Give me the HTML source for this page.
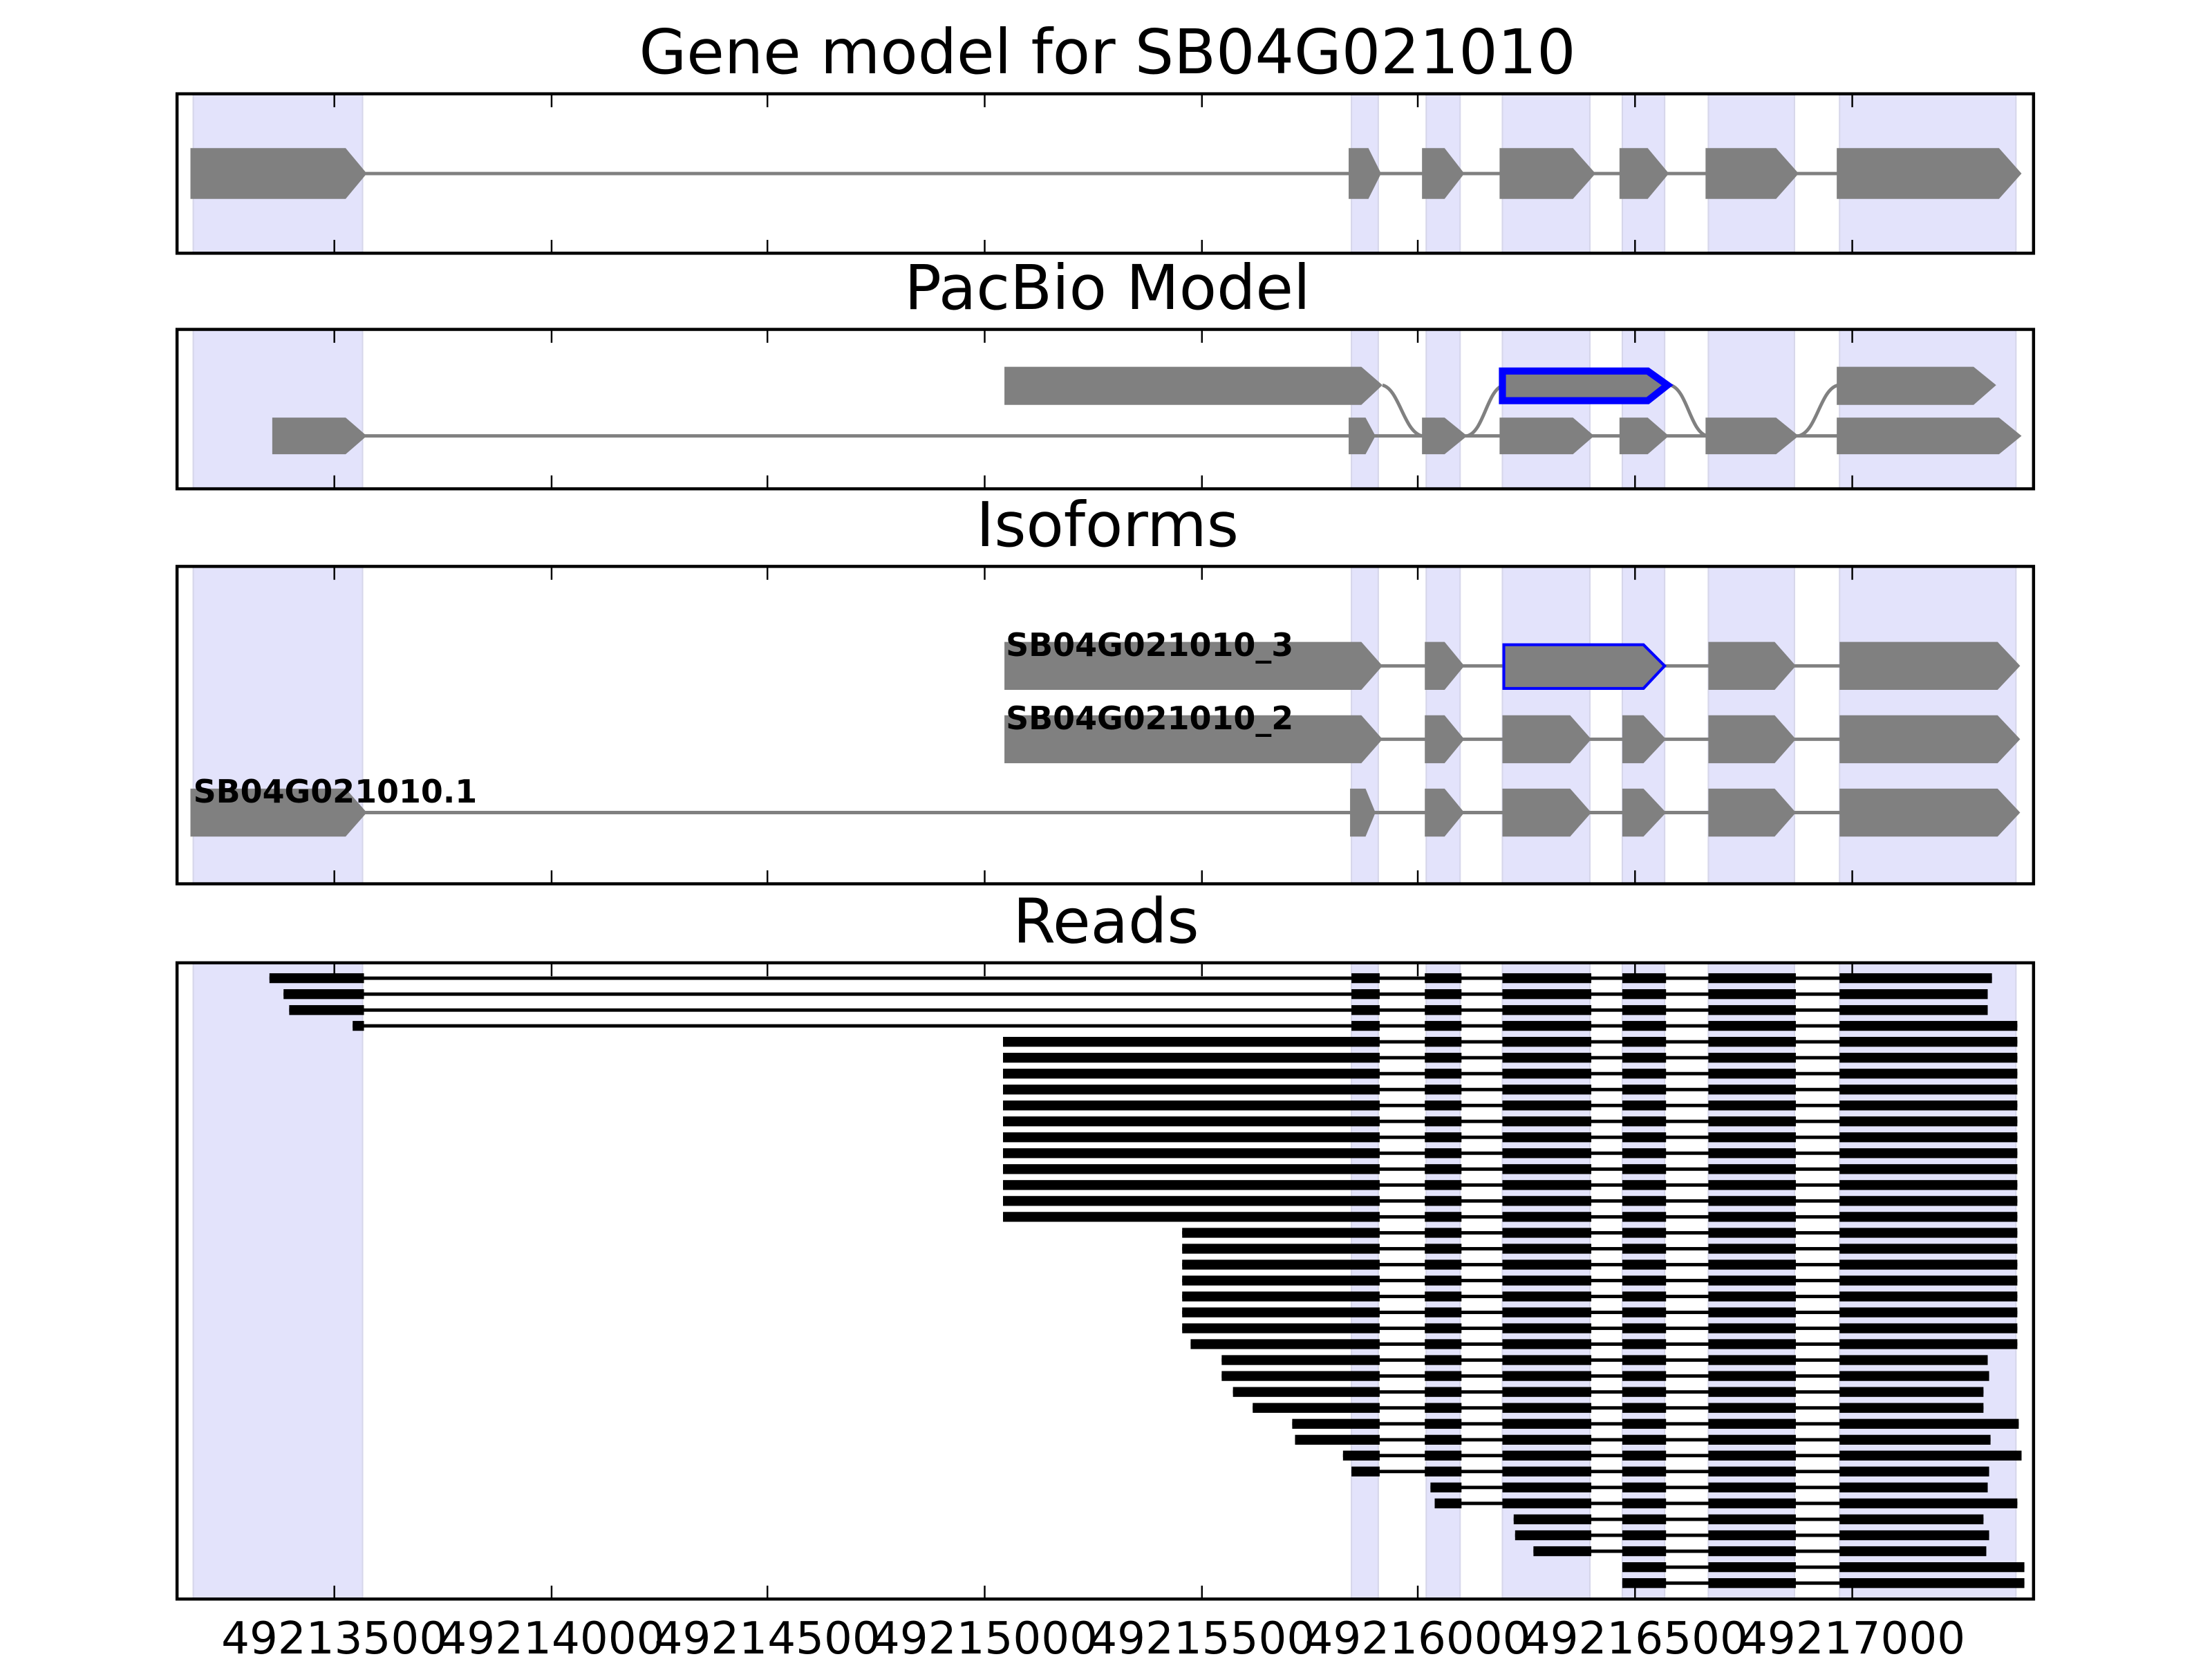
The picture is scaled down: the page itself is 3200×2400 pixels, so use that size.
<!DOCTYPE html>
<html><head><meta charset="utf-8"><style>
html,body{margin:0;padding:0;background:#fff;}
svg{display:block;}
text{font-family:"DejaVu Sans","Liberation Sans",sans-serif;}
</style></head><body>
<svg width="3200" height="2400" viewBox="0 0 1568 1176" preserveAspectRatio="none" xmlns="http://www.w3.org/2000/svg">
<defs>
<g id="ticks">
<path d="M237 0v9M391 0v9M544 0v9M698 0v9M852 0v9M1005 0v9M1159 0v9M1313 0v9" stroke="#000" stroke-width="1.2"/>
</g>
<g id="b2"><rect x="1010" y="-3.5" width="26" height="7"/></g>
<g id="b3"><rect x="1065" y="-3.5" width="63" height="7"/></g>
<g id="tail"><rect x="1150" y="-3.5" width="31" height="7"/><rect x="1211" y="-3.5" width="62" height="7"/></g>
</defs>
<rect width="1568" height="1176" fill="#fff"/>

<!-- titles -->
<text x="785" y="52" font-size="43.5" text-anchor="middle">Gene model for SB04G021010</text>
<text x="785" y="219" font-size="43.5" text-anchor="middle">PacBio Model</text>
<text x="785" y="387" font-size="43.5" text-anchor="middle">Isoforms</text>
<text x="784" y="668" font-size="43.5" text-anchor="middle">Reads</text>

<!-- shaded bands for each panel -->
<g fill="#e3e3fb" stroke="#d6d6ea" stroke-width="1">
<rect x="137" y="67" width="120" height="112"/>
<rect x="958" y="67" width="19" height="112"/>
<rect x="1011" y="67" width="24" height="112"/>
<rect x="1065" y="67" width="62" height="112"/>
<rect x="1150" y="67" width="30" height="112"/>
<rect x="1211" y="67" width="61" height="112"/>
<rect x="1304" y="67" width="125" height="112"/>

<rect x="137" y="234" width="120" height="112"/>
<rect x="958" y="234" width="19" height="112"/>
<rect x="1011" y="234" width="24" height="112"/>
<rect x="1065" y="234" width="62" height="112"/>
<rect x="1150" y="234" width="30" height="112"/>
<rect x="1211" y="234" width="61" height="112"/>
<rect x="1304" y="234" width="125" height="112"/>

<rect x="137" y="402" width="120" height="224"/>
<rect x="958" y="402" width="19" height="224"/>
<rect x="1011" y="402" width="24" height="224"/>
<rect x="1065" y="402" width="62" height="224"/>
<rect x="1150" y="402" width="30" height="224"/>
<rect x="1211" y="402" width="61" height="224"/>
<rect x="1304" y="402" width="125" height="224"/>

<rect x="137" y="683" width="120" height="450"/>
<rect x="958" y="683" width="19" height="450"/>
<rect x="1011" y="683" width="24" height="450"/>
<rect x="1065" y="683" width="62" height="450"/>
<rect x="1150" y="683" width="30" height="450"/>
<rect x="1211" y="683" width="61" height="450"/>
<rect x="1304" y="683" width="125" height="450"/>
</g>

<!-- Panel 1 gene model -->
<g fill="#808080">
<line x1="258" y1="123" x2="1430" y2="123" stroke="#808080" stroke-width="2.4"/>
<polygon points="135,105 245,105 260,123 245,141 135,141"/>
<polygon points="956,105 970,105 979,123 970,141 956,141"/>
<polygon points="1008,105 1024,105 1038,123 1024,141 1008,141"/>
<polygon points="1063,105 1115,105 1131,123 1115,141 1063,141"/>
<polygon points="1148,105 1168,105 1183,123 1168,141 1148,141"/>
<polygon points="1209,105 1259,105 1275,123 1259,141 1209,141"/>
<polygon points="1302,105 1417,105 1433,123 1417,141 1302,141"/>
</g>

<!-- Panel 2 PacBio -->
<g fill="#808080">
<line x1="258" y1="309" x2="1430" y2="309" stroke="#808080" stroke-width="2.4"/>
<path d="M980 273 C992 276 995 306 1008 309 M1040 309 C1052 306 1054 276 1066 273 M1184 273 C1196 276 1198 306 1210 309 M1275 309 C1288 306 1290 276 1303 273" fill="none" stroke="#808080" stroke-width="2.4"/>
<polygon points="712,260 965,260 980,273 965,287 712,287"/>
<polygon points="1302,260 1399,260 1415,273 1399,287 1302,287"/>
<polygon points="1065,263 1168,263 1182,273 1168,284 1065,284" stroke="#0000ff" stroke-width="5"/>
<polygon points="193,296 245,296 260,309 245,322 193,322"/>
<polygon points="956,296 968,296 975,309 968,322 956,322"/>
<polygon points="1008,296 1024,296 1040,309 1024,322 1008,322"/>
<polygon points="1063,296 1115,296 1130,309 1115,322 1063,322"/>
<polygon points="1148,296 1168,296 1183,309 1168,322 1148,322"/>
<polygon points="1209,296 1259,296 1275,309 1259,322 1209,322"/>
<polygon points="1302,296 1417,296 1433,309 1417,322 1302,322"/>
</g>

<!-- Panel 3 Isoforms -->
<g fill="#808080">
<line x1="975" y1="472" x2="1430" y2="472" stroke="#808080" stroke-width="2.4"/>
<line x1="975" y1="524" x2="1430" y2="524" stroke="#808080" stroke-width="2.4"/>
<line x1="258" y1="576" x2="1430" y2="576" stroke="#808080" stroke-width="2.4"/>
<polygon points="712,455 965,455 980,472 965,489 712,489"/>
<polygon points="1010,455 1024,455 1038,472 1024,489 1010,489"/>
<polygon points="1066,457 1165,457 1180,472 1165,488 1066,488" stroke="#0000ff" stroke-width="2"/>
<polygon points="1211,455 1258,455 1273,472 1258,489 1211,489"/>
<polygon points="1304,455 1416,455 1432,472 1416,489 1304,489"/>

<polygon points="712,507 965,507 980,524 965,541 712,541"/>
<polygon points="1010,507 1024,507 1038,524 1024,541 1010,541"/>
<polygon points="1065,507 1113,507 1128,524 1113,541 1065,541"/>
<polygon points="1150,507 1165,507 1181,524 1165,541 1150,541"/>
<polygon points="1211,507 1258,507 1273,524 1258,541 1211,541"/>
<polygon points="1304,507 1416,507 1432,524 1416,541 1304,541"/>

<polygon points="135,559 245,559 260,576 245,593 135,593"/>
<polygon points="957,559 968,559 975,576 968,593 957,593"/>
<polygon points="1010,559 1024,559 1038,576 1024,593 1010,593"/>
<polygon points="1065,559 1113,559 1128,576 1113,593 1065,593"/>
<polygon points="1150,559 1165,559 1181,576 1165,593 1150,593"/>
<polygon points="1211,559 1258,559 1273,576 1258,593 1211,593"/>
<polygon points="1304,559 1416,559 1432,576 1416,593 1304,593"/>
</g>
<g font-size="22.5" font-weight="bold" fill="#000">
<text x="713" y="465">SB04G021010_3</text>
<text x="713" y="517">SB04G021010_2</text>
<text x="137" y="569">SB04G021010.1</text>
</g>

<!-- Panel 4 Reads -->
<g fill="#000" stroke="none">
<g transform="translate(0,693.4)"><rect x="191" y="-1.2" width="1221" height="2.4"/><rect x="191" y="-3.5" width="67" height="7"/><rect x="958" y="-3.5" width="20" height="7"/><use href="#b2"/><use href="#b3"/><use href="#tail"/><rect x="1304" y="-3.5" width="108" height="7"/></g>
<g transform="translate(0,704.7)"><rect x="201" y="-1.2" width="1208" height="2.4"/><rect x="201" y="-3.5" width="57" height="7"/><rect x="958" y="-3.5" width="20" height="7"/><use href="#b2"/><use href="#b3"/><use href="#tail"/><rect x="1304" y="-3.5" width="105" height="7"/></g>
<g transform="translate(0,716.0)"><rect x="205" y="-1.2" width="1204" height="2.4"/><rect x="205" y="-3.5" width="53" height="7"/><rect x="958" y="-3.5" width="20" height="7"/><use href="#b2"/><use href="#b3"/><use href="#tail"/><rect x="1304" y="-3.5" width="105" height="7"/></g>
<g transform="translate(0,727.2)"><rect x="250" y="-1.2" width="1180" height="2.4"/><rect x="250" y="-3.5" width="8" height="7"/><rect x="958" y="-3.5" width="20" height="7"/><use href="#b2"/><use href="#b3"/><use href="#tail"/><rect x="1304" y="-3.5" width="126" height="7"/></g>

<g id="r711">
<g transform="translate(0,738.5)"><rect x="711" y="-1.2" width="719" height="2.4"/><rect x="711" y="-3.5" width="267" height="7"/><use href="#b2"/><use href="#b3"/><use href="#tail"/><rect x="1304" y="-3.5" width="126" height="7"/></g>
</g>
<use href="#r711" y="11.28"/><use href="#r711" y="22.56"/><use href="#r711" y="33.84"/>
<use href="#r711" y="45.12"/><use href="#r711" y="56.4"/><use href="#r711" y="67.68"/>
<use href="#r711" y="78.96"/><use href="#r711" y="90.24"/><use href="#r711" y="101.52"/>
<use href="#r711" y="112.8"/><use href="#r711" y="124.08"/>

<g id="r838">
<g transform="translate(0,873.9)"><rect x="838" y="-1.2" width="592" height="2.4"/><rect x="838" y="-3.5" width="140" height="7"/><use href="#b2"/><use href="#b3"/><use href="#tail"/><rect x="1304" y="-3.5" width="126" height="7"/></g>
</g>
<use href="#r838" y="11.28"/><use href="#r838" y="22.56"/><use href="#r838" y="33.84"/>
<use href="#r838" y="45.12"/><use href="#r838" y="56.4"/><use href="#r838" y="67.68"/>

<g transform="translate(0,952.8)"><rect x="844" y="-1.2" width="586" height="2.4"/><rect x="844" y="-3.5" width="134" height="7"/><use href="#b2"/><use href="#b3"/><use href="#tail"/><rect x="1304" y="-3.5" width="126" height="7"/></g>
<g transform="translate(0,964.1)"><rect x="866" y="-1.2" width="543" height="2.4"/><rect x="866" y="-3.5" width="112" height="7"/><use href="#b2"/><use href="#b3"/><use href="#tail"/><rect x="1304" y="-3.5" width="105" height="7"/></g>
<g transform="translate(0,975.4)"><rect x="866" y="-1.2" width="544" height="2.4"/><rect x="866" y="-3.5" width="112" height="7"/><use href="#b2"/><use href="#b3"/><use href="#tail"/><rect x="1304" y="-3.5" width="106" height="7"/></g>
<g transform="translate(0,986.7)"><rect x="874" y="-1.2" width="532" height="2.4"/><rect x="874" y="-3.5" width="104" height="7"/><use href="#b2"/><use href="#b3"/><use href="#tail"/><rect x="1304" y="-3.5" width="102" height="7"/></g>
<g transform="translate(0,998.0)"><rect x="888" y="-1.2" width="518" height="2.4"/><rect x="888" y="-3.5" width="90" height="7"/><use href="#b2"/><use href="#b3"/><use href="#tail"/><rect x="1304" y="-3.5" width="102" height="7"/></g>
<g transform="translate(0,1009.3)"><rect x="916" y="-1.2" width="515" height="2.4"/><rect x="916" y="-3.5" width="62" height="7"/><use href="#b2"/><use href="#b3"/><use href="#tail"/><rect x="1304" y="-3.5" width="127" height="7"/></g>
<g transform="translate(0,1020.6)"><rect x="918" y="-1.2" width="493" height="2.4"/><rect x="918" y="-3.5" width="60" height="7"/><use href="#b2"/><use href="#b3"/><use href="#tail"/><rect x="1304" y="-3.5" width="107" height="7"/></g>
<g transform="translate(0,1031.8)"><rect x="952" y="-1.2" width="481" height="2.4"/><rect x="952" y="-3.5" width="26" height="7"/><use href="#b2"/><use href="#b3"/><use href="#tail"/><rect x="1304" y="-3.5" width="129" height="7"/></g>
<g transform="translate(0,1043.1)"><rect x="958" y="-1.2" width="452" height="2.4"/><rect x="958" y="-3.5" width="20" height="7"/><use href="#b2"/><use href="#b3"/><use href="#tail"/><rect x="1304" y="-3.5" width="106" height="7"/></g>
<g transform="translate(0,1054.4)"><rect x="1014" y="-1.2" width="395" height="2.4"/><rect x="1014" y="-3.5" width="22" height="7"/><use href="#b3"/><use href="#tail"/><rect x="1304" y="-3.5" width="105" height="7"/></g>
<g transform="translate(0,1065.7)"><rect x="1017" y="-1.2" width="413" height="2.4"/><rect x="1017" y="-3.5" width="19" height="7"/><use href="#b3"/><use href="#tail"/><rect x="1304" y="-3.5" width="126" height="7"/></g>
<g transform="translate(0,1077.0)"><rect x="1073" y="-1.2" width="333" height="2.4"/><rect x="1073" y="-3.5" width="55" height="7"/><use href="#tail"/><rect x="1304" y="-3.5" width="102" height="7"/></g>
<g transform="translate(0,1088.3)"><rect x="1074" y="-1.2" width="336" height="2.4"/><rect x="1074" y="-3.5" width="54" height="7"/><use href="#tail"/><rect x="1304" y="-3.5" width="106" height="7"/></g>
<g transform="translate(0,1099.6)"><rect x="1087" y="-1.2" width="321" height="2.4"/><rect x="1087" y="-3.5" width="41" height="7"/><use href="#tail"/><rect x="1304" y="-3.5" width="104" height="7"/></g>
<g transform="translate(0,1110.9)"><rect x="1150" y="-1.2" width="285" height="2.4"/><use href="#tail"/><rect x="1304" y="-3.5" width="131" height="7"/></g>
<g transform="translate(0,1122.2)"><rect x="1150" y="-1.2" width="285" height="2.4"/><use href="#tail"/><rect x="1304" y="-3.5" width="131" height="7"/></g>
</g>

<!-- frames and ticks -->
<g fill="none" stroke="#000" stroke-width="2.2">
<rect x="125.5" y="66.5" width="1316" height="113"/>
<rect x="125.5" y="233.5" width="1316" height="113"/>
<rect x="125.5" y="401.5" width="1316" height="225"/>
<rect x="125.5" y="682.5" width="1316" height="451"/>
</g>
<use href="#ticks" y="67"/><use href="#ticks" transform="translate(0,179) scale(1,-1)"/>
<use href="#ticks" y="234"/><use href="#ticks" transform="translate(0,346) scale(1,-1)"/>
<use href="#ticks" y="402"/><use href="#ticks" transform="translate(0,626) scale(1,-1)"/>
<use href="#ticks" y="683"/><use href="#ticks" transform="translate(0,1133) scale(1,-1)"/>

<g font-size="31.5" text-anchor="middle" fill="#000">
<text x="237" y="1172">49213500</text>
<text x="391" y="1172">49214000</text>
<text x="544" y="1172">49214500</text>
<text x="698" y="1172">49215000</text>
<text x="852" y="1172">49215500</text>
<text x="1005" y="1172">49216000</text>
<text x="1159" y="1172">49216500</text>
<text x="1313" y="1172">49217000</text>
</g>
</svg>
</body></html>
